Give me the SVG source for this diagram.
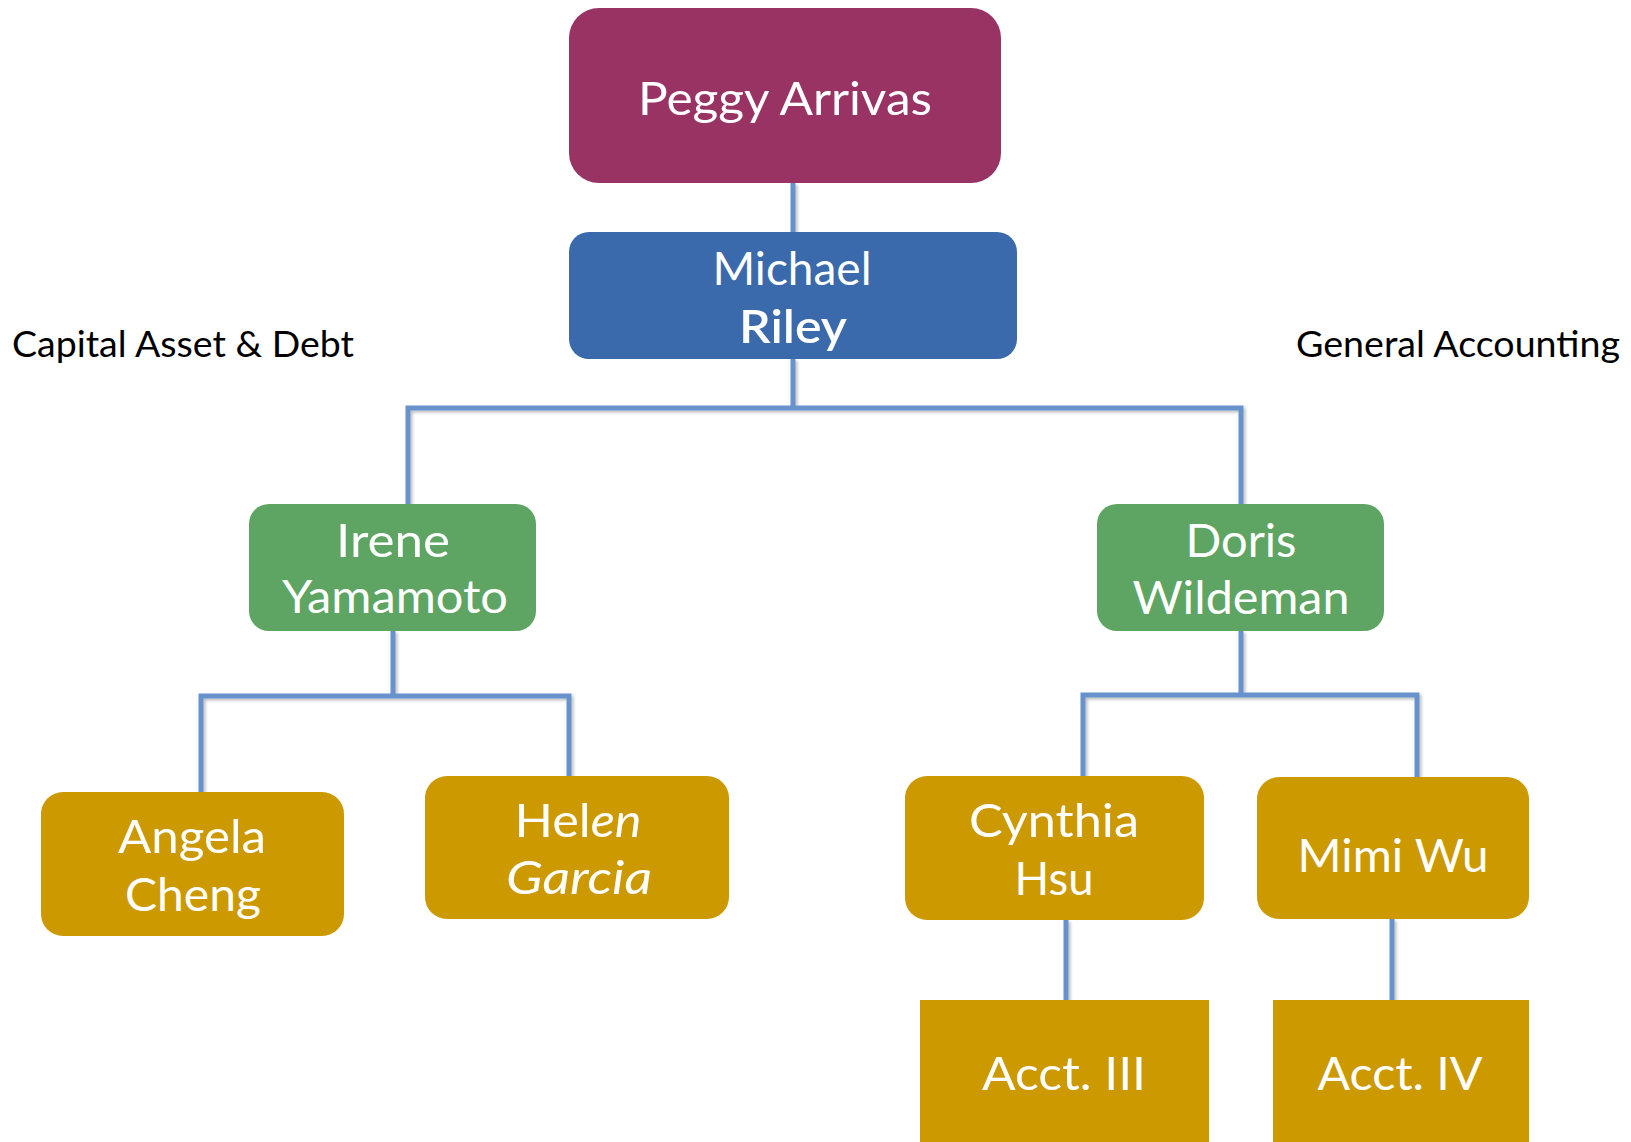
<svg xmlns="http://www.w3.org/2000/svg" width="1631" height="1142" viewBox="0 0 1631 1142">
<defs>
<filter id="sh" filterUnits="userSpaceOnUse" x="0" y="0" width="1631" height="1142">
<feDropShadow dx="2" dy="2" stdDeviation="1.5" flood-color="#000" flood-opacity="0.25"/>
</filter>
</defs>
<style>
.conn{fill:none;stroke:#6792CB;stroke-width:5;stroke-linejoin:miter;filter:url(#sh)}
.nt{font-family:Lato,"Open Sans","Liberation Sans",sans-serif;fill:#fff;text-anchor:middle;font-size:47px}
.lbl{font-family:Lato,"Open Sans","Liberation Sans",sans-serif;fill:#000;font-size:36px}
.mag{fill:#983363}
.blu{fill:#3A69AC}
.grn{fill:#5EA463}
.gld{fill:#CC9900}
</style>
<rect width="1631" height="1142" fill="#fff"/>
<g id="connectors">
<path class="conn" d="M793 183 V232"/>
<path class="conn" d="M793 359 V408 M408 504 V408 H1241 V504"/>
<path class="conn" d="M393 631 V696 M201 792 V696 H569 V776"/>
<path class="conn" d="M1241 631 V695 M1083 776 V695 H1417 V777"/>
<path class="conn" d="M1066 920 V1000"/>
<path class="conn" d="M1392 919 V1000"/>
</g>
<g id="peggy">
<rect class="mag" x="569" y="8" width="432" height="175" rx="30"/>
<text class="nt" x="785" y="115" textLength="294" lengthAdjust="spacingAndGlyphs">Peggy Arrivas</text>
</g>
<g id="michael">
<rect class="blu" x="569" y="232" width="448" height="127" rx="20"/>
<text class="nt" x="792" y="285" textLength="159" lengthAdjust="spacingAndGlyphs">Michael</text>
<text class="nt" x="793" y="343" font-weight="600" textLength="108" lengthAdjust="spacingAndGlyphs">Riley</text>
</g>
<g id="irene">
<rect class="grn" x="249" y="504" width="287" height="127" rx="20"/>
<text class="nt" x="393" y="557" textLength="114" lengthAdjust="spacingAndGlyphs">Irene</text>
<text class="nt" x="395" y="613" textLength="226" lengthAdjust="spacingAndGlyphs">Yamamoto</text>
</g>
<g id="doris">
<rect class="grn" x="1097" y="504" width="287" height="127" rx="20"/>
<text class="nt" x="1241" y="557" textLength="111" lengthAdjust="spacingAndGlyphs">Doris</text>
<text class="nt" x="1241" y="614" textLength="217" lengthAdjust="spacingAndGlyphs">Wildeman</text>
</g>
<g id="angela">
<rect class="gld" x="41" y="792" width="303" height="144" rx="22"/>
<text class="nt" x="192" y="853" textLength="148" lengthAdjust="spacingAndGlyphs">Angela</text>
<text class="nt" x="193" y="911" textLength="136" lengthAdjust="spacingAndGlyphs">Cheng</text>
</g>
<g id="helen">
<rect class="gld" x="425" y="776" width="304" height="143" rx="22"/>
<text class="nt" x="578" y="837" textLength="127" lengthAdjust="spacingAndGlyphs">Hel<tspan font-style="italic">en</tspan></text>
<text class="nt" x="579" y="894" font-style="italic" textLength="146" lengthAdjust="spacingAndGlyphs">Garcia</text>
</g>
<g id="cynthia">
<rect class="gld" x="905" y="776" width="299" height="144" rx="22"/>
<text class="nt" x="1054" y="837" textLength="170" lengthAdjust="spacingAndGlyphs">Cynthia</text>
<text class="nt" x="1054" y="895" textLength="79" lengthAdjust="spacingAndGlyphs">Hsu</text>
</g>
<g id="mimi">
<rect class="gld" x="1257" y="777" width="272" height="142" rx="22"/>
<text class="nt" x="1393" y="872" textLength="191" lengthAdjust="spacingAndGlyphs">Mimi Wu</text>
</g>
<g id="acct3">
<rect class="gld" x="920" y="1000" width="289" height="142"/>
<text class="nt" x="1064" y="1090" textLength="164" lengthAdjust="spacingAndGlyphs">Acct. III</text>
</g>
<g id="acct4">
<rect class="gld" x="1273" y="1000" width="256" height="142"/>
<text class="nt" x="1400" y="1090" textLength="165" lengthAdjust="spacingAndGlyphs">Acct. IV</text>
</g>
<g id="labels">
<text class="lbl" x="12" y="357" textLength="342" lengthAdjust="spacingAndGlyphs">Capital Asset &amp; Debt</text>
<text class="lbl" x="1296" y="357" textLength="324" lengthAdjust="spacingAndGlyphs">General Accounting</text>
</g>
</svg>
